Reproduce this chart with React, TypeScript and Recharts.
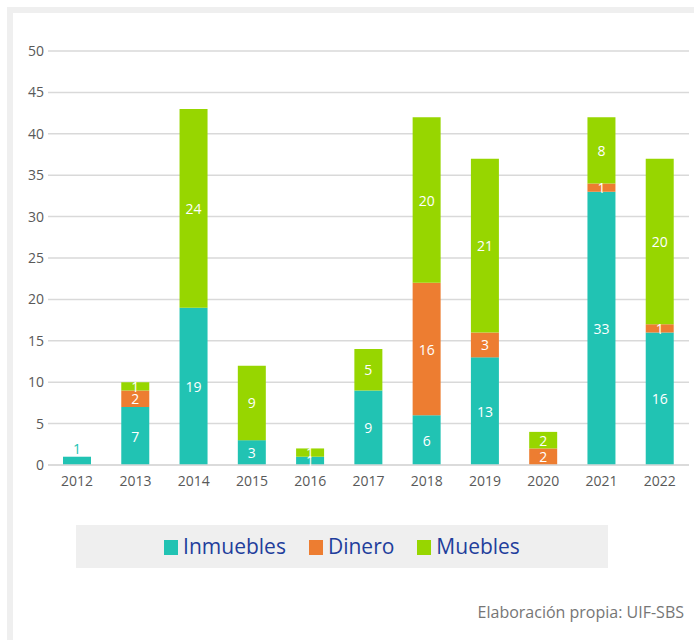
import React from 'react';
import { BarChart, Bar, XAxis, YAxis, CartesianGrid, LabelList } from 'recharts';

const years = ['2012', '2013', '2014', '2015', '2016', '2017', '2018', '2019', '2020', '2021', '2022'];
const inmuebles = [1, 7, 19, 3, 1, 9, 6, 13, 0, 33, 16];
const dinero = [0, 2, 0, 0, 0, 0, 16, 3, 2, 1, 1];
const muebles = [0, 1, 24, 9, 1, 5, 20, 21, 2, 8, 20];
const yTicks = [0, 5, 10, 15, 20, 25, 30, 35, 40, 45, 50];
const seriesKeys = ['inmuebles', 'dinero', 'muebles'];
const seriesNames = ['Inmuebles', 'Dinero', 'Muebles'];
const seriesColors = ['#21c3b3', '#ed7d31', '#97d600'];
const sourceText = 'Elaboración propia: UIF-SBS';

const rows = years.map((year, i) => ({
  year,
  inmuebles: inmuebles[i],
  dinero: dinero[i],
  muebles: muebles[i],
}));

const FONT = '"Open Sans", "Noto Sans", sans-serif';

const makeLabel = (seriesIdx: number) => (props: any) => {
  const { x, y, width, height, value, index } = props;
  if (!value) return null;
  const row: any = rows[index];
  const others = seriesKeys.filter((_, k) => k !== seriesIdx).reduce((s, k) => s + (row ? row[k] : 0), 0);
  const alone = others === 0 && Math.abs(height) < 14;
  const cx = Number(x) + Number(width) / 2;
  const cy = alone ? Number(y) - 8 : Number(y) + Number(height) / 2;
  return (
    <text
      x={cx}
      y={cy}
      textAnchor="middle"
      dominantBaseline="central"
      fill={alone ? seriesColors[seriesIdx] : '#ffffff'}
      fontSize={14}
      fontFamily={FONT}
    >
      {value}
    </text>
  );
};

export default function App() {
  return (
    <div style={{ position: 'absolute', left: 0, top: 0, width: 694, height: 640, background: '#ffffff', fontFamily: FONT }}>
      <div
        style={{
          position: 'absolute',
          left: 7,
          top: 7,
          width: 687,
          height: 633,
          boxSizing: 'border-box',
          borderLeft: '6px solid #efefef',
          borderTop: '6px solid #efefef',
        }}
      />
      <div style={{ position: 'absolute', left: 0, top: 0 }}>
        <BarChart
          width={694}
          height={640}
          data={rows}
          margin={{ top: 51, right: 5, bottom: 145, left: 0 }}
          barSize={28}
          style={{ fontFamily: FONT }}
        >
          <CartesianGrid vertical={false} stroke="#d9d9d9" strokeWidth={1.5} />
          <XAxis
            dataKey="year"
            height={30}
            axisLine={{ stroke: '#d9d9d9', strokeWidth: 1.5 }}
            tickLine={false}
            tickSize={0}
            tickMargin={11}
            tick={{ fill: '#595959', fontSize: 14, fontFamily: FONT }}
            interval={0}
          />
          <YAxis
            width={48}
            domain={[0, 50]}
            ticks={yTicks}
            axisLine={false}
            tickLine={false}
            tickSize={0}
            tickMargin={4}
            tick={{ fill: '#595959', fontSize: 14, fontFamily: FONT }}
          />
          {seriesKeys.map((key, i) => (
            <Bar key={key} dataKey={key} name={seriesNames[i]} stackId="a" fill={seriesColors[i]} isAnimationActive={false}>
              <LabelList dataKey={key} content={makeLabel(i)} />
            </Bar>
          ))}
        </BarChart>
      </div>
      <div
        style={{
          position: 'absolute',
          left: 76,
          top: 525,
          width: 532,
          height: 43,
          background: '#efefef',
          display: 'flex',
          alignItems: 'center',
          justifyContent: 'center',
          gap: 23,
        }}
      >
        {seriesNames.map((name, i) => (
          <div key={name} style={{ display: 'flex', alignItems: 'center' }}>
            <div style={{ width: 14, height: 15, background: seriesColors[i], marginRight: 5, position: 'relative', top: 1 }} />
            <span style={{ fontSize: 21, color: '#1f3e9c', lineHeight: '24px', position: 'relative', top: -1 }}>{name}</span>
          </div>
        ))}
      </div>
      <div
        style={{
          position: 'absolute',
          right: 10,
          top: 601,
          fontSize: 16,
          color: '#767676',
          lineHeight: '22px',
        }}
      >
        {sourceText}
      </div>
    </div>
  );
}
